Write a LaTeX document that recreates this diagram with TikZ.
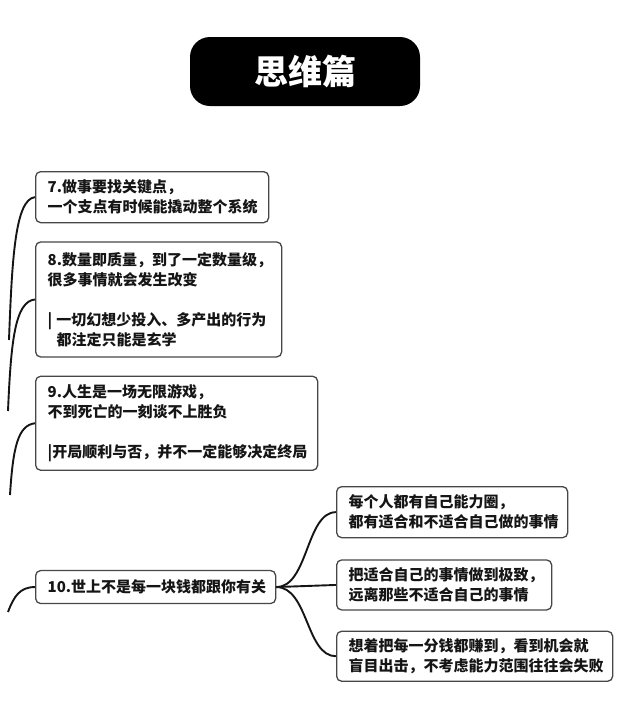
\documentclass[tikz,border=0pt]{standalone}
\usepackage{fontspec}
\setmainfont{Noto Sans CJK SC}
\usetikzlibrary{positioning}
\usepackage{xcolor}
\definecolor{ink}{HTML}{151515}
\definecolor{edg}{HTML}{474747}
\tikzset{
  hdr/.style  = {rectangle, rounded corners=20pt, fill=black, text=white,
                 minimum width=230pt, minimum height=69pt,
                 font=\fontsize{34}{34}\selectfont\bfseries},
  note/.style = {rectangle, rounded corners=5pt, draw=edg, line width=1.3pt,
                 fill=white, inner xsep=12pt, inner ysep=0pt, align=left,
                 anchor=north west, text=ink,
                 font=\fontsize{15}{20}\selectfont\bfseries},
  link/.style = {line width=1.9pt, color=ink},
}

\begin{document}
\begin{tikzpicture}[x=1pt, y=-1pt]
  \useasboundingbox (0,0) rectangle (625,726);

  % ── title
  \node[hdr] (ttl) at (305,71.5) {思维篇};

  % ── left column
  \node[note, text width=209pt, minimum height=51pt] (n7) at (35,171)
    {7.做事要找关键点，\\一个支点有时候能撬动整个系统};
  \node[note, text width=222pt, minimum height=115pt,
        below=18pt of n7.south west, anchor=north west] (n8)
    {8.数量即质量，到了一定数量级，\\很多事情就会发生改变\\[20pt]
     |\hspace{4pt}一切幻想少投入、多产出的行为\\\hspace{9pt}都注定只能是玄学};
  \node[note, text width=258pt, minimum height=94pt,
        below=18pt of n8.south west, anchor=north west] (n9)
    {9.人生是一场无限游戏，\\不到死亡的一刻谈不上胜负\\[20pt]
     |开局顺利与否，并不一定能够决定终局};
  \node[note, text width=216pt, minimum height=33pt,
        below=99pt of n9.south west, anchor=north west] (n10)
    {10.世上不是每一块钱都跟你有关};

  % ── right column
  \node[note, text width=207pt, minimum height=51pt] (na) at (336,486)
    {每个人都有自己能力圈，\\都有适合和不适合自己做的事情};
  \node[note, text width=191pt, minimum height=50pt,
        below=21pt of na.south west, anchor=north west] (nb)
    {把适合自己的事情做到极致，\\远离那些不适合自己的事情};
  \node[note, text width=252pt, minimum height=50pt,
        below=20pt of nb.south west, anchor=north west] (nc)
    {想着把每一分钱都赚到，看到机会就\\盲目出击，不考虑能力范围往往会失败};

  % ── loose ends at the left margin
  \coordinate (r7)  at (9,340);
  \coordinate (r8)  at (8,411);
  \coordinate (r9)  at (10,495);
  \coordinate (r10) at (8,612);

  % ── branches
  \draw[link] (r7)  .. controls +(3,-80) and +(-20,2) .. (n7.west);
  \draw[link] (r8)  .. controls +(3,-70) and +(-20,2) .. (n8.west);
  \draw[link] (r9)  .. controls +(3,-48) and +(-17,2) .. (n9.west);
  \draw[link] (r10) .. controls +(6,-16) and +(-15,0) .. (n10.west);
  \draw[link] (n10.east) .. controls +(32,0) and +(-30,0) .. (na.west);
  \draw[link] (n10.east) -- (nb.west);
  \draw[link] (n10.east) .. controls +(32,0) and +(-30,0) .. (nc.west);

\end{tikzpicture}
\end{document}
